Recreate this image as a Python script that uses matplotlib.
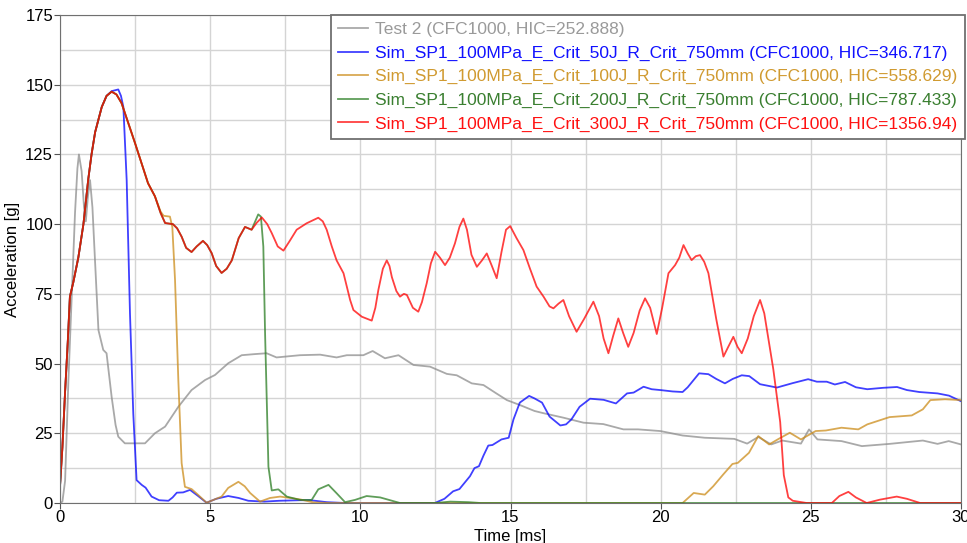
''' Head acceleration: test vs simulations '''
import matplotlib
matplotlib.use('Agg')
import matplotlib.pyplot as plt
from matplotlib.ticker import MultipleLocator

plt.rcParams['font.family'] = ['Liberation Sans', 'DejaVu Sans']

# data (time in ms, acceleration in g)
t_test = [0, 0.08, 0.17, 0.28, 0.39, 0.5, 0.58, 0.63, 0.72, 0.8, 0.86, 0.93, 1.0, 1.08,
          1.17, 1.28, 1.44, 1.55, 1.72, 1.85, 1.94, 2.16, 2.83, 3.16, 3.5, 3.94, 4.38,
          4.83, 5.16, 5.6, 6.05, 6.49, 6.88, 7.21, 7.99, 8.66, 9.21, 9.55, 10.1, 10.41,
          10.82, 11.27, 11.77, 12.32, 12.88, 13.21, 13.71, 14.1, 14.5, 14.88, 15.32,
          15.8, 16.1, 16.76, 17.43, 18.09, 18.76, 19.25, 19.99, 20.73, 21.47, 22.45,
          22.88, 23.25, 23.68, 24.05, 24.67, 24.94, 25.22, 26.02, 26.7, 27.62, 28.73,
          29.22, 29.59, 30]
g_test = [0, 0.5, 8, 44, 74, 104, 120, 125, 119, 106, 101, 110, 115.8, 106,
          86, 62, 54.9, 53.7, 38, 28, 23.8, 21.4, 21.4, 25, 27.4, 34.5, 40.5,
          44.1, 45.9, 50.1, 53, 53.4, 53.7, 52.2, 53, 53.2, 52.2, 53, 53, 54.5,
          51.9, 53, 49.5, 48.9, 46.3, 45.8, 42.9, 42.3, 39.5, 36.9, 35.1,
          33, 32.2, 30.6, 28.8, 28.3, 26.4, 26.4, 25.8, 24.2, 23.4, 23,
          21.3, 23.7, 21, 22.4, 21.3, 26.4, 22.8, 22.2, 20.4, 21.2, 22.4,
          21.2, 22.2, 21]

# common loading phase of the simulations
t_rise = [0, 0.08, 0.17, 0.26, 0.33, 0.44, 0.61, 0.78, 0.94, 1.05, 1.17, 1.39, 1.55]
g_rise = [6, 20, 40, 58, 74, 79, 88, 100, 116, 125, 133, 142, 146]

t_50 = t_rise + [1.72, 1.83, 1.94, 2.03, 2.11, 2.22, 2.33, 2.44, 2.55, 2.72, 2.85, 3.05,
                 3.3, 3.61, 3.75, 3.89, 4.1, 4.33, 4.6, 4.88, 5.2, 5.6, 5.95, 6.27, 6.8,
                 7.3, 8.0, 8.33, 8.88, 9.5, 12.48, 12.8, 13.09, 13.3, 13.65, 13.8, 13.95,
                 14.1, 14.26, 14.4, 14.7, 14.94, 15.1, 15.31, 15.62, 15.8, 16.05, 16.3,
                 16.66, 16.85, 17.03, 17.3, 17.65, 18.1, 18.51, 18.88, 19.1, 19.43, 19.7,
                 19.99, 20.4, 20.73, 20.9, 21.28, 21.59, 21.85, 22.14, 22.4, 22.7, 22.95,
                 23.31, 23.87, 24.4, 24.91, 25.2, 25.53, 25.8, 26.14, 26.5, 26.88, 27.4,
                 27.87, 28.2, 28.61, 29.22, 29.6, 30]
g_50 = g_rise + [147.7, 148, 148.3, 146, 142, 115.8, 68, 32, 8.2, 6.5, 5.5, 2.3,
                 1, 0.8, 2, 3.7, 3.8, 4.7, 2.5, 0.1, 1.5, 2.5, 1.8, 0.8, 0.5,
                 0.8, 1.0, 1.0, 0.3, 0, 0, 1.5, 4.2, 5, 9.6, 12.5, 13.2,
                 17, 20.6, 20.8, 22.8, 23.4, 30, 36, 38.4, 37.5, 36, 31,
                 27.8, 28.2, 30, 34.5, 37.4, 37, 35.7, 39.3, 39.6, 41.7, 40.8,
                 40.5, 40, 39.8, 41.5, 46.5, 46.2, 44.5, 42.9, 44.5, 45.8, 45.5,
                 42.6, 41.4, 43, 44.4, 43.5, 43.5, 42.5, 43.4, 41.5, 40.8, 41.3,
                 41.6, 40.5, 39.8, 39.3, 38.5, 36.5]

t_100 = t_rise + [1.72, 1.88, 2.05, 2.5, 2.93, 3.16, 3.35, 3.45, 3.66, 3.74, 3.83, 3.94,
                  4.05, 4.16, 4.38, 4.6, 4.88, 5.38, 5.6, 5.94, 6.15, 6.33, 6.66, 6.99,
                  7.33, 7.99, 8.44, 9.0, 20.73, 21.1, 21.47, 21.75, 22.08, 22.39, 22.57,
                  22.94, 23.25, 23.61, 23.93, 24.3, 24.67, 25.16, 25.5, 26.02, 26.58,
                  26.88, 27.62, 28.36, 28.73, 28.98, 29.47, 30]
g_100 = g_rise + [147.5, 146.5, 143.4, 129, 114.7, 110, 104.5, 103, 102.7, 99, 80, 44,
                  14.3, 5.8, 5, 2.9, 0.1, 2.3, 5.4, 7.6, 6, 3.6, 0.5, 1.8,
                  2.3, 1.3, 0.2, 0, 0, 3.6, 3, 6, 10.2, 14, 14.4,
                  18, 24, 21, 23, 25.2, 22.8, 25.8, 26, 27, 26.4,
                  28.2, 30.8, 31.4, 33.6, 36.9, 37.2, 36.9]

t_mid = [1.72, 1.88, 2.05, 2.5, 2.93, 3.16, 3.35, 3.5, 3.76, 3.9, 4.05, 4.2, 4.38, 4.55,
         4.76, 4.9, 5.05, 5.2, 5.38, 5.55, 5.72, 5.95, 6.16, 6.38]
g_mid = [147.5, 146.5, 143.4, 129, 114.7, 110, 104, 100.4, 100, 98.5, 95.5, 91.5, 90, 92,
         94, 92.5, 89.6, 85, 82.5, 84, 87, 95, 99, 98]

t_200 = t_rise + t_mid + [6.5, 6.6, 6.69, 6.77, 6.83, 6.94, 7.05, 7.21, 7.27, 7.55, 7.99,
                          8.38, 8.6, 8.94, 9.21, 9.49, 9.82, 10.21, 10.66, 11.32, 12.5,
                          13.0, 13.6, 14.0, 30]
g_200 = g_rise + g_mid + [101, 103.5, 102.7, 92, 60, 13, 4.5, 4.8, 4.9, 2.3, 1.1,
                          1.1, 4.9, 6.5, 3.5, 0.3, 1.1, 2.5, 2, 0, 0,
                          0.5, 0.3, 0, 0]

t_300 = t_rise + t_mid + [6.55, 6.72, 6.9, 7.05, 7.25, 7.44, 7.65, 7.88, 8.21, 8.6, 8.75,
                          8.88, 9.05, 9.21, 9.44, 9.66, 9.77, 10.05, 10.38, 10.5, 10.6,
                          10.75, 10.88, 10.97, 11.05, 11.2, 11.32, 11.45, 11.55, 11.75,
                          11.93, 12.05, 12.21, 12.35, 12.49, 12.65, 12.82, 12.98, 13.15,
                          13.3, 13.43, 13.55, 13.7, 13.88, 14.05, 14.21, 14.38, 14.54,
                          14.7, 14.85, 14.99, 15.2, 15.43, 15.65, 15.87, 16.1, 16.3, 16.43,
                          16.6, 16.76, 16.95, 17.2, 17.45, 17.76, 17.95, 18.1, 18.26,
                          18.42, 18.59, 18.75, 18.92, 19.1, 19.3, 19.48, 19.65, 19.87,
                          20.05, 20.26, 20.48, 20.62, 20.76, 20.9, 21.03, 21.17, 21.31,
                          21.45, 21.59, 21.85, 22.09, 22.25, 22.42, 22.56, 22.7, 22.9,
                          23.1, 23.31, 23.45, 23.75, 23.98, 24.1, 24.25, 24.4, 24.86,
                          25.7, 25.95, 26.25, 26.5, 26.86, 27.3, 27.86, 28.2, 28.64, 30]
g_300 = g_rise + g_mid + [100.5, 102.4, 100, 96.8, 92, 90.5, 94, 98, 100.3, 102.3, 101,
                          98, 92, 87, 82.4, 72.8, 69.2, 66.8, 65.4, 70, 76.4,
                          84, 87, 85, 81, 76, 74, 75, 74.6, 70,
                          68.6, 72, 78.8, 86, 90.1, 88, 85.3, 88, 93.1,
                          99, 102, 98, 89, 84.7, 87, 89.5, 85, 80.6,
                          90, 98, 99.3, 95, 90.7, 84, 77.6, 74, 70.5, 69.8,
                          71.5, 72.8, 67, 61.4, 66, 72.2, 67, 59, 53.7,
                          60, 66.2, 61, 56, 61, 69, 73.4, 70, 60.6,
                          70, 82.4, 85.3, 88, 92.5, 89.5, 87.1, 88.5, 88.9,
                          86.5, 82.4, 66, 52.5, 56, 59.6, 56, 53.7, 59,
                          67, 72.8, 68, 48, 29, 10, 2, 0.8, 0,
                          0, 2.5, 4, 2, 0, 1.2, 2.3, 1.5, 0, 0]

series = [
    (t_test, g_test, 'Test 2 (CFC1000, HIC=252.888)', '#8c8c8c', '#9a9a9a'),
    (t_50, g_50, 'Sim_SP1_100MPa_E_Crit_50J_R_Crit_750mm (CFC1000, HIC=346.717)', '#0000ff', '#1010ff'),
    (t_100, g_100, 'Sim_SP1_100MPa_E_Crit_100J_R_Crit_750mm (CFC1000, HIC=558.629)', '#cc8c1a', '#d09a30'),
    (t_200, g_200, 'Sim_SP1_100MPa_E_Crit_200J_R_Crit_750mm (CFC1000, HIC=787.433)', '#2a7d22', '#3a7f30'),
    (t_300, g_300, 'Sim_SP1_100MPa_E_Crit_300J_R_Crit_750mm (CFC1000, HIC=1356.94)', '#ff0000', '#ff1010'),
]

fig = plt.figure(figsize=(9.67, 5.43), dpi=100)
ax = fig.add_axes([60 / 967, 1 - 503 / 543, 901 / 967, 488 / 543])

for t, g, label, color, _ in series:
    ax.plot(t, g, color=color, lw=1.3, alpha=0.75, label=label)

ax.set_xlim(0, 30)
ax.set_ylim(0, 175)
ax.xaxis.set_major_locator(MultipleLocator(5))
ax.xaxis.set_minor_locator(MultipleLocator(2.5))
ax.yaxis.set_major_locator(MultipleLocator(25))
ax.yaxis.set_minor_locator(MultipleLocator(12.5))
ax.grid(True, which='both', color='#d4d4d4', lw=1.0)
ax.set_axisbelow(True)
ax.tick_params(which='major', labelsize=12, length=4, color='#555555', pad=1)
ax.tick_params(which='minor', length=0)
for sp in ax.spines.values():
    sp.set_color('#707070')

ax.set_xlabel('Time [ms]', fontsize=12, labelpad=3)
ax.set_ylabel('Acceleration [g]', fontsize=12, labelpad=4)

leg = ax.legend(loc='upper right', bbox_to_anchor=(1.004, 1.0), borderaxespad=0,
                fontsize=12.5, frameon=True, fancybox=False, edgecolor='#707070',
                framealpha=1, handlelength=1.75, handletextpad=0.4,
                labelspacing=0.48, borderpad=0.4)
leg.get_frame().set_linewidth(1.3)
for txt, s in zip(leg.get_texts(), series):
    txt.set_color(s[4])

fig.savefig('out.png', dpi=100)
